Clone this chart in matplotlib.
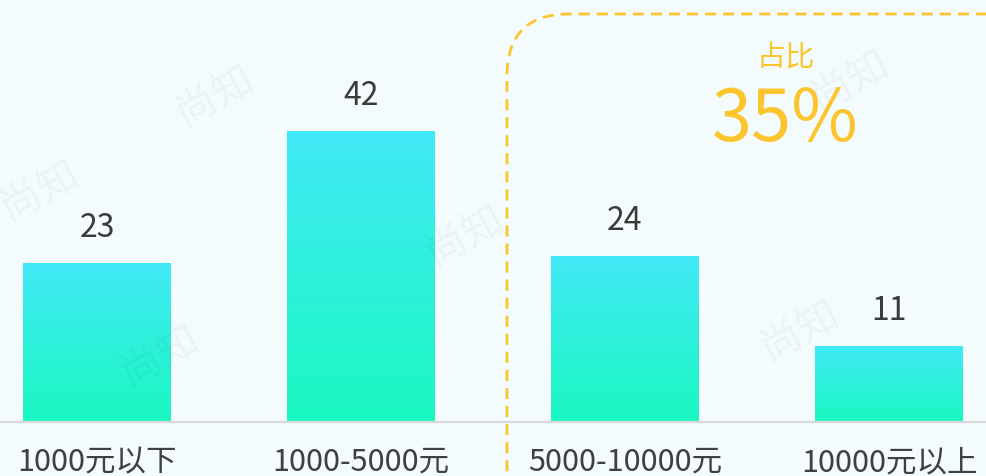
import numpy as np
import matplotlib
matplotlib.use('Agg')
import matplotlib.pyplot as plt
from matplotlib.patches import FancyBboxPatch
from matplotlib.colors import LinearSegmentedColormap
from matplotlib.transforms import IdentityTransform

plt.rcParams['font.family'] = ['Noto Sans CJK SC', 'DejaVu Sans']

categories = ['1000元以下', '1000-5000元', '5000-10000元', '10000元以上']
values = [23, 42, 24, 11]
share_label = '占比'
share_value = '35%'

W, H = 987, 476
bg = '#f3fbfd'
grad = LinearSegmentedColormap.from_list('g', ['#1af8c0', '#42e9f7'])

fig = plt.figure(figsize=(W / 100, H / 100), dpi=100)
fig.patch.set_facecolor(bg)

base = 54
ax = fig.add_axes([0, base / H, 1, (H - base) / H])
ax.set_facecolor('none')
ax.set_xlim(-97 / 264, (W - 97) / 264)
ax.set_ylim(0, (H - base) / 6.93)

x = np.arange(len(values))
bars = ax.bar(x, values, width=148 / 264, facecolor='none', edgecolor='none')
for b in bars:
    x0, w, h = b.get_x(), b.get_width(), b.get_height()
    img = ax.imshow(np.linspace(0, 1, 256).reshape(-1, 1), cmap=grad, origin='lower',
                    extent=[x0, x0 + w, 0, h], aspect='auto', zorder=2)
    img.set_clip_path(b)
    ax.annotate(str(int(h)), (x0 + w / 2, h), xytext=(0, 18.5), textcoords='offset points',
                ha='center', va='baseline', fontsize=23, color='#3a3a3a', fontweight=500)

ax.set_xticks(x)
ax.set_xticklabels(categories, fontsize=22, color='#404040', fontweight=500)
ax.tick_params(axis='x', length=0, pad=18)
ax.set_yticks([])
for s in ['top', 'left', 'right']:
    ax.spines[s].set_visible(False)
ax.spines['bottom'].set_color('#d9d9d9')
ax.spines['bottom'].set_linewidth(1.6)

# faint watermarks
for px, py in [(215, 95), (465, 235), (850, 80), (800, 330), (160, 355), (40, 190)]:
    fig.text(px / W, 1 - py / H, '尚知', fontsize=30, color='#000000', alpha=0.035,
             rotation=28, ha='center', va='center')

box = FancyBboxPatch((507, -80), 600, H - 14 + 80, boxstyle='round,pad=0,rounding_size=62',
                     transform=IdentityTransform(), facecolor='none', edgecolor='#fcc52e',
                     linewidth=2, linestyle=(0, (4, 2.5)), zorder=5)
fig.add_artist(box)

fig.text(786 / W, 1 - 57 / H, share_label, fontsize=21, color='#fcc52e', ha='center',
         va='center', fontweight=500)
fig.text(785 / W, 1 - 121 / H, share_value, fontsize=52, color='#fcc52e', ha='center', va='center')

fig.savefig('out.png', dpi=100, facecolor=bg)
